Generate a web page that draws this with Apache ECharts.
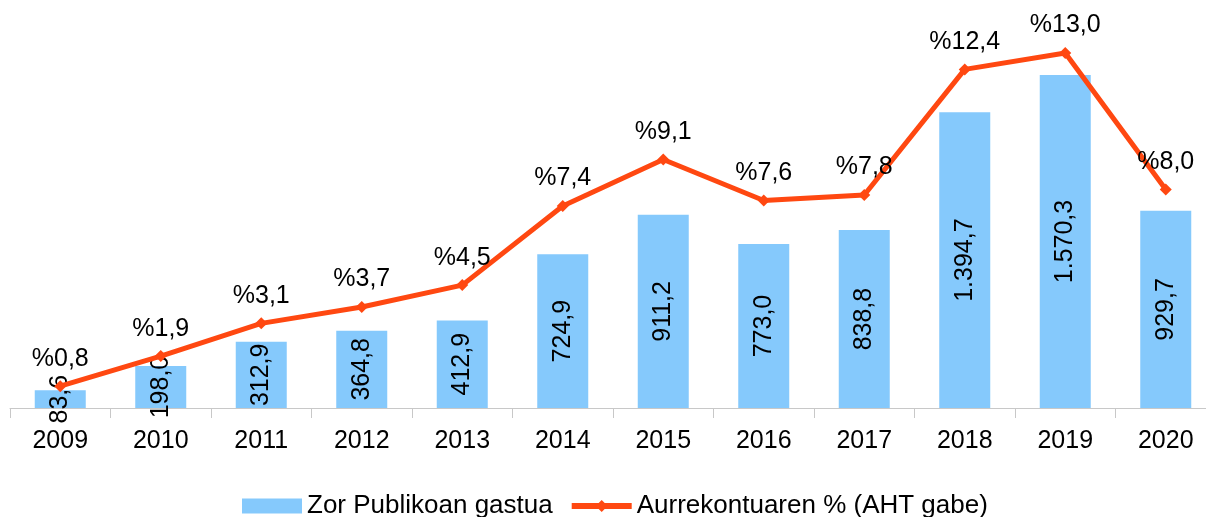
<!doctype html>
<html>
<head>
<meta charset="utf-8">
<script src="https://cdn.jsdelivr.net/npm/echarts@6/dist/echarts.min.js"></script>
<style>
    html, body {margin: 0; padding: 0; background: #fff; overflow: hidden;}
    #chart {width: 1216px; height: 517px;}
</style>
</head>
<body>
<div id="chart"></div>
<script>
    var years = ['2009', '2010', '2011', '2012', '2013', '2014', '2015', '2016', '2017', '2018', '2019', '2020'];
    var gastua = [83.6, 198.0, 312.9, 364.8, 412.9, 724.9, 911.2, 773.0, 838.8, 1394.7, 1570.3, 929.7];
    var ehunekoa = [0.8, 1.9, 3.1, 3.7, 4.5, 7.4, 9.1, 7.6, 7.8, 12.4, 13.0, 8.0];

    // 1.570,3 / 83,6 formatua (puntua milakoetan, koma hamartarretan)
    function euFormat(v) {
        var s = v.toFixed(1).split('.');
        var int = s[0].replace(/\B(?=(\d{3})+(?!\d))/g, '.');
        return int + ',' + s[1];
    }

    var myChart = echarts.init(document.getElementById('chart'));
    var font = 'Liberation Sans';
    var barColor = '#85c9fc';
    var lineColor = '#ff4811';

    var option = {
        animation: false,
        textStyle: {fontFamily: font},
        grid: {left: 10, right: 0, top: 53, bottom: 109, containLabel: false},
        legend: {
            left: 237,
            top: 488,
            itemWidth: 60,
            itemHeight: 15,
            itemGap: 16,
            textStyle: {fontSize: 26, color: '#000', fontFamily: font},
            data: [
                {name: 'Zor Publikoan gastua', icon: 'rect', itemStyle: {color: barColor}},
                {name: 'Aurrekontuaren % (AHT gabe)', lineStyle: {width: 6, color: lineColor}, itemStyle: {color: lineColor}}
            ]
        },
        xAxis: {
            type: 'category',
            data: years,
            axisLine: {lineStyle: {color: '#c8c8c8', width: 1}},
            axisTick: {show: true, length: 10, alignWithLabel: false, lineStyle: {color: '#c8c8c8'}},
            axisLabel: {color: '#000', fontSize: 25, margin: 21, fontFamily: font}
        },
        yAxis: [
            {type: 'value', min: 0, max: 1674, show: false, splitLine: {show: false}},
            {type: 'value', min: 0, max: 13, show: false, splitLine: {show: false}}
        ],
        series: [
            {
                name: 'Zor Publikoan gastua',
                type: 'bar',
                yAxisIndex: 0,
                data: gastua,
                barWidth: 51,
                itemStyle: {color: barColor},
                label: {
                    show: true,
                    position: 'inside',
                    rotate: 90,
                    color: '#000',
                    fontSize: 25,
                    fontFamily: font,
                    formatter: function (p) { return euFormat(p.value); }
                },
                z: 2
            },
            {
                name: 'Aurrekontuaren % (AHT gabe)',
                type: 'line',
                yAxisIndex: 1,
                data: ehunekoa,
                symbol: 'diamond',
                symbolSize: 12,
                lineStyle: {color: lineColor, width: 5},
                itemStyle: {color: lineColor},
                label: {
                    show: true,
                    position: 'top',
                    distance: 9,
                    color: '#000',
                    fontSize: 25,
                    fontFamily: font,
                    formatter: function (p) { return '%' + p.value.toFixed(1).replace('.', ','); }
                },
                z: 3
            }
        ]
    };

    myChart.setOption(option);
</script>
</body>
</html>
